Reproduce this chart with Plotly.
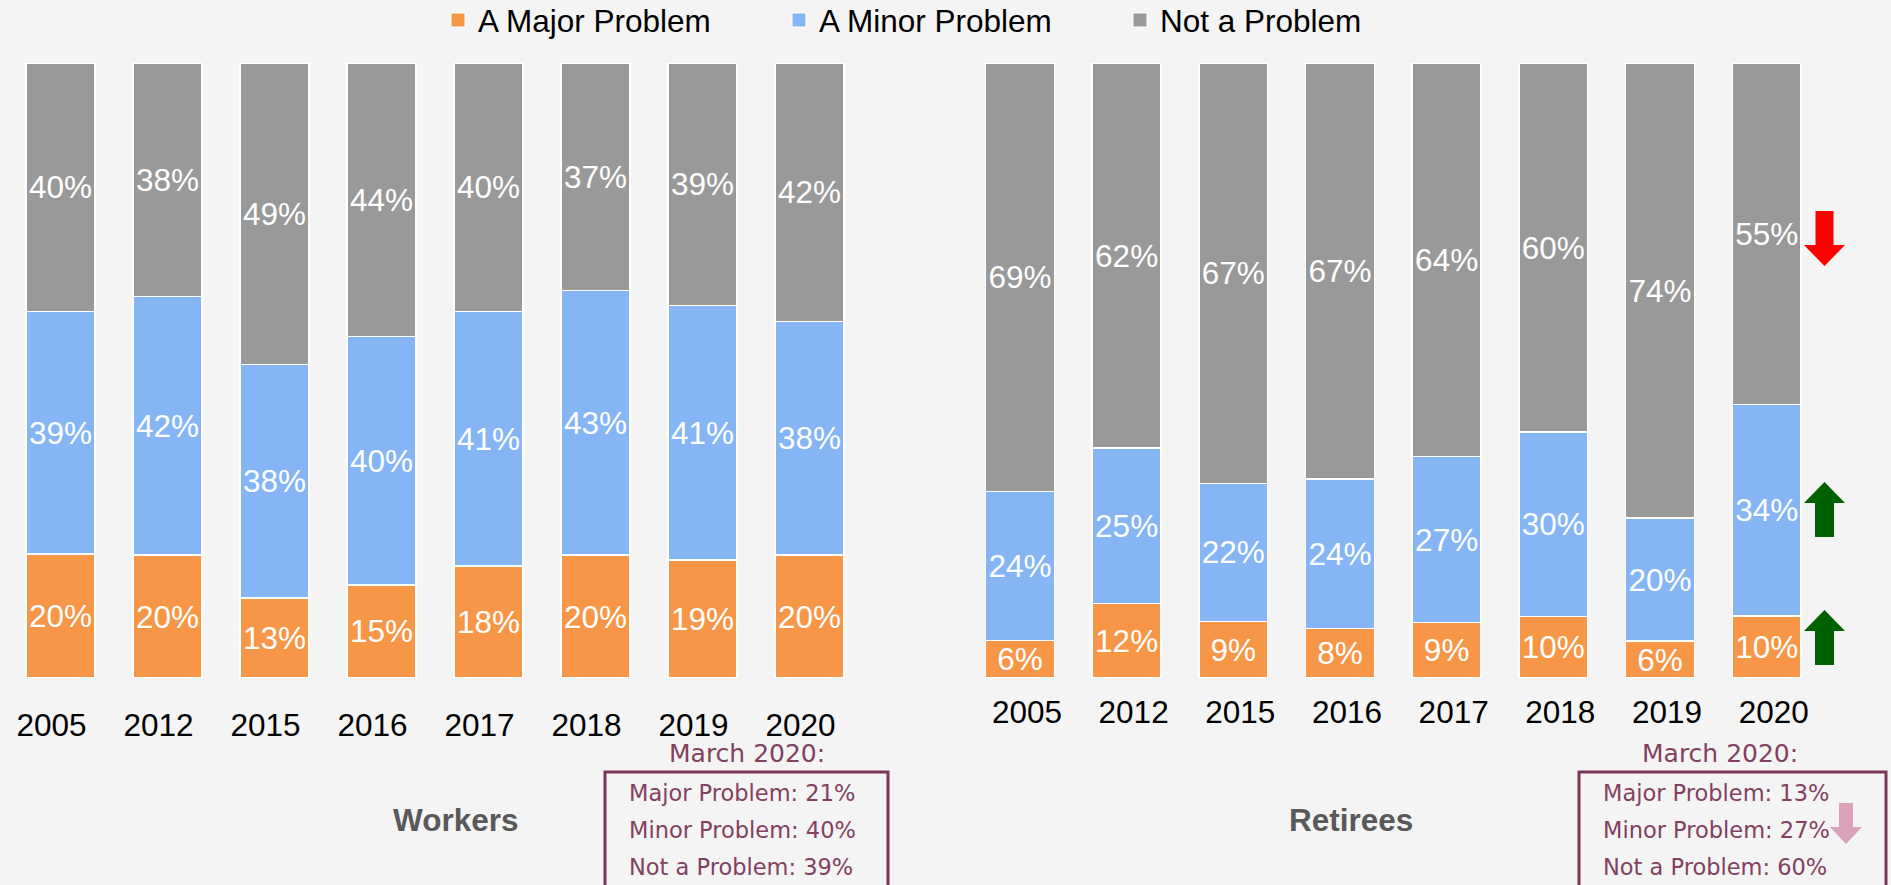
import plotly.graph_objects as go

# ---------------- data ----------------
years = ["2005", "2012", "2015", "2016", "2017", "2018", "2019", "2020"]
series_names = ["A Major Problem", "A Minor Problem", "Not a Problem"]

workers_major = [20, 20, 13, 15, 18, 20, 19, 20]
workers_minor = [39, 42, 38, 40, 41, 43, 41, 38]
workers_not = [40, 38, 49, 44, 40, 37, 39, 42]

retirees_major = [6, 12, 9, 8, 9, 10, 6, 10]
retirees_minor = [24, 25, 22, 24, 27, 30, 20, 34]
retirees_not = [69, 62, 67, 67, 64, 60, 74, 55]

panel_titles = ["Workers", "Retirees"]
march_header = "March 2020:"
workers_march = ["Major Problem: 21%", "Minor Problem: 40%", "Not a Problem: 39%"]
retirees_march = ["Major Problem: 13%", "Minor Problem: 27%", "Not a Problem: 60%"]

# ---------------- style ----------------
W, H = 1891, 885
colors = ["#F79646", "#85B5F5", "#999999"]
bg = "#F4F4F4"
arial = "Liberation Sans, Arial, sans-serif"
gothic = "DejaVu Sans, Century Gothic, sans-serif"
plum_text = "#83405F"
plum_line = "#7A3558"


def px(x):
    return x / W


def py(y):
    return 1 - y / H


fig = go.Figure()

# legend entries (square markers like the original)
for name, c in zip(series_names, colors):
    fig.add_trace(go.Scatter(
        x=[None], y=[None], mode="markers", name=name, xaxis="x", yaxis="y",
        marker=dict(symbol="square", size=14, color=c, line=dict(color="white", width=1)),
        showlegend=True, hoverinfo="skip",
    ))

panels = [
    ("x", "y", [workers_major, workers_minor, workers_not]),
    ("x2", "y2", [retirees_major, retirees_minor, retirees_not]),
]
for xa, ya, vals in panels:
    for name, v, c in zip(series_names, vals, colors):
        fig.add_trace(go.Bar(
            x=years, y=v, name=name, xaxis=xa, yaxis=ya,
            marker=dict(color=c, line=dict(color="white", width=1.5)),
            text=[f"{t}%" for t in v],
            textposition="inside", insidetextanchor="middle",
            constraintext="none", textangle=0,
            insidetextfont=dict(color="white", size=31.5, family=arial),
            showlegend=False, hoverinfo="skip",
        ))

ydom = [py(678), py(63)]
axis_common = dict(type="category", showgrid=False, zeroline=False, showline=False,
                   ticks="", tickfont=dict(size=31.5, family=arial, color="black"),
                   fixedrange=True)
fig.update_layout(
    width=W, height=H,
    margin=dict(l=0, r=0, t=0, b=0, autoexpand=False),
    paper_bgcolor=bg, plot_bgcolor=bg,
    barmode="stack", barnorm="percent", bargap=0.355,
    xaxis=dict(domain=[px(7), px(863)], anchor="y", ticklabelshift=-9,
               ticklabelstandoff=25, **axis_common),
    xaxis2=dict(domain=[px(966.6), px(1820)], anchor="y2", ticklabelshift=7,
                ticklabelstandoff=12, **axis_common),
    yaxis=dict(domain=ydom, range=[0, 100], visible=False, fixedrange=True),
    yaxis2=dict(domain=ydom, range=[0, 100], visible=False, fixedrange=True),
    legend=dict(orientation="h", x=px(438), xanchor="left", y=py(20), yanchor="middle",
                font=dict(size=31.5, family=arial, color="black"),
                entrywidth=296, entrywidthmode="pixels", bgcolor="rgba(0,0,0,0)",
                traceorder="normal"),
    showlegend=True,
)

annotations = []
# panel titles
for t, cx in zip(panel_titles, [455, 1351]):
    annotations.append(dict(text=f"<b>{t}</b>", x=px(cx), y=py(820), xref="paper", yref="paper",
                            xanchor="center", yanchor="middle", showarrow=False,
                            font=dict(size=31.5, family=arial, color="#595959")))
# March boxes
for lines, hx, lx in [(workers_march, 746.5, 627), (retirees_march, 1720, 1601)]:
    annotations.append(dict(text=march_header, x=px(hx), y=py(753), xref="paper", yref="paper",
                            xanchor="center", yanchor="middle", showarrow=False,
                            font=dict(size=25, family=gothic, color=plum_text)))
    for line, ly in zip(lines, [793, 830, 867]):
        annotations.append(dict(text=line, x=px(lx), y=py(ly), xref="paper", yref="paper",
                                xanchor="left", yanchor="middle", showarrow=False,
                                font=dict(size=22.5, family=gothic, color=plum_text)))
fig.update_layout(annotations=annotations)

shapes = []
for x0, x1 in [(605, 888), (1579, 1886)]:
    shapes.append(dict(type="rect", xref="paper", yref="paper",
                       x0=px(x0), x1=px(x1), y0=py(772), y1=py(892),
                       line=dict(color=plum_line, width=3), fillcolor="rgba(0,0,0,0)"))


def arrow(cx, sw, hw, y_tail, y_base, y_tip, color):
    pts = [(cx - sw / 2, y_tail), (cx + sw / 2, y_tail), (cx + sw / 2, y_base),
           (cx + hw / 2, y_base), (cx, y_tip), (cx - hw / 2, y_base), (cx - sw / 2, y_base)]
    d = "M " + " L ".join(f"{px(a):.5f},{py(b):.5f}" for a, b in pts) + " Z"
    return dict(type="path", xref="paper", yref="paper", path=d,
                fillcolor=color, line=dict(width=0))


shapes.append(arrow(1824.5, 18, 41, 211, 245, 266, "#FF0000"))
shapes.append(arrow(1824.5, 19, 41, 537, 503, 482, "#006100"))
shapes.append(arrow(1824.5, 19, 41, 665, 631, 610, "#006100"))
shapes.append(arrow(1846, 14, 32, 803, 827, 844, "#D9A3B9"))
fig.update_layout(shapes=shapes)

fig.write_html("out.html", config={"displayModeBar": False},
               post_script="document.body.style.margin='0';document.body.style.overflow='hidden';")
